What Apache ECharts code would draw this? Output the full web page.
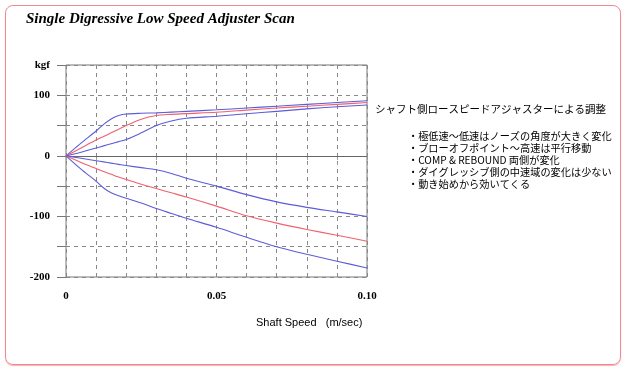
<!DOCTYPE html>
<html>
<head>
<meta charset="utf-8">
<script src="https://cdn.jsdelivr.net/npm/echarts@6/dist/echarts.min.js"></script>
<style>
html,body{margin:0;padding:0;background:#fff;}
#wrap{position:relative;width:628px;height:373px;}
#chart{position:absolute;left:0;top:0;width:628px;height:373px;}
#frame{position:absolute;left:5px;top:5px;width:614px;height:358px;border:1.5px solid #f08890;border-radius:8px;box-shadow:0 1px 1px #f6b0b0;pointer-events:none;}
</style>
</head>
<body>
<div id="wrap"><div id="chart"></div><div id="frame"></div></div>
<script>
// Shaft speed (m/sec)
const speeds = [0, 0.005, 0.01, 0.0125, 0.015, 0.0175, 0.02, 0.025, 0.03, 0.035, 0.04, 0.05, 0.06, 0.07, 0.08, 0.09, 0.10];
// Damping force (kgf)
const rebHigh = [0, 21, 41, 52, 61, 66.5, 69, 70.3, 71, 72.2, 73.5, 76, 79, 82, 85, 88, 91];
const rebMid  = [0, 13, 26, 32, 38, 44, 50, 60.5, 66.5, 68.5, 69.8, 72, 75.5, 79, 82, 85, 88];
const rebLow  = [0, 6, 13, 16.5, 20, 23.5, 27, 38, 50, 57.5, 62, 65.5, 69.5, 73.5, 77.5, 81, 84];
const compLow = [0, -4, -8, -10, -12, -14, -16, -19.5, -23, -29, -37, -50, -64, -76, -85, -92.5, -100];
const compMid = [0, -11, -21, -26, -30.5, -35, -39, -47, -54, -61, -68, -83, -99, -111, -121.5, -131, -141];
const compHigh= [0, -22, -42, -53, -61, -66, -70, -78, -87, -95, -103, -118, -134.5, -150, -162.5, -174, -185];

const titleText = 'Single Digressive Low Speed Adjuster Scan';
const xName = 'Shaft Speed   (m/sec)';
const yName = 'kgf';
const noteHead = 'シャフト側ロースピードアジャスターによる調整';
const noteLines = [
  '・極低速〜低速はノーズの角度が大きく変化',
  '・ブローオフポイント〜高速は平行移動',
  '・COMP & REBOUND 両側が変化',
  '・ダイグレッシブ側の中速域の変化は少ない',
  '・動き始めから効いてくる'
];

const BLUE = '#5c5cd8', RED = '#f0606e';
const pairs = arr => speeds.map((s, i) => [s, arr[i]]);
function mk(arr, color, extra) {
  return Object.assign({
    type: 'line', data: pairs(arr), showSymbol: false, symbol: 'none',
    smooth: 0.3,
    lineStyle: { color: color, width: 1.1 }, z: 5
  }, extra || {});
}

const chart = echarts.init(document.getElementById('chart'), null, { renderer: 'canvas' });
const serifLab = { fontFamily: '"Liberation Serif", "Times New Roman", serif', fontWeight: 'bold', fontSize: 11, color: '#000' };
const near = (a, b) => Math.abs(a - b) < 1e-9;

chart.setOption({
  animation: false,
  backgroundColor: 'transparent',
  title: {
    text: titleText, left: 21, top: 7,
    textStyle: { fontFamily: '"Liberation Serif", "Times New Roman", serif', fontStyle: 'italic', fontWeight: 'bold', fontSize: 15, color: '#000' }
  },
  grid: { left: 66, top: 65, width: 301, height: 212, show: true, borderColor: '#777', borderWidth: 1, backgroundColor: '#fff' },
  xAxis: {
    type: 'value', min: 0, max: 0.10, interval: 0.01,
    axisLine: { show: false },
    axisTick: { show: true, length: 9, lineStyle: { color: '#999', type: [4, 3] } },
    splitLine: { show: true, lineStyle: { color: '#888', type: [4, 4], width: 1 } },
    axisLabel: Object.assign({ margin: 14, formatter: v => near(v, 0) ? '0' : near(v, 0.05) ? '0.05' : near(v, 0.1) ? '0.10' : '' }, serifLab)
  },
  yAxis: {
    type: 'value', min: -200, max: 150, interval: 50,
    axisLine: { show: false },
    axisTick: { show: true, length: 9, lineStyle: { color: '#777' } },
    splitLine: { show: true, lineStyle: { color: '#888', type: [4, 4], width: 1 } },
    axisLabel: Object.assign({ margin: 16, formatter: v => v === 150 ? yName : (v % 100 === 0 ? String(v) : '') }, serifLab)
  },
  graphic: [
    { type: 'text', left: 256, top: 317, style: { text: xName, fontFamily: '"Liberation Sans", Arial, sans-serif', fontSize: 11, fill: '#000' } },
    { type: 'text', left: 375, top: 104, style: { text: noteHead, fontFamily: '"Noto Sans CJK JP", sans-serif', fontSize: 10.5, fill: '#000' } },
    { type: 'text', left: 408, top: 130, style: { text: noteLines.join('\n'), fontFamily: '"Noto Sans CJK JP", sans-serif', fontSize: 10.2, lineHeight: 12, fill: '#000' } }
  ],
  series: [
    mk(rebHigh, BLUE, { markLine: { silent: true, symbol: 'none', label: { show: false }, lineStyle: { color: '#666', type: 'solid', width: 1 }, data: [{ yAxis: 0 }] } }),
    mk(rebMid, RED),
    mk(rebLow, BLUE),
    mk(compLow, BLUE),
    mk(compMid, RED),
    mk(compHigh, BLUE)
  ]
});
</script>
</body>
</html>
